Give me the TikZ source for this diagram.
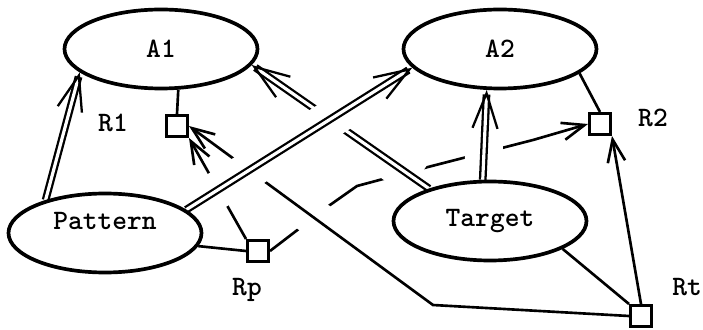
\documentclass[tikz,border=0pt]{standalone}
\usepackage{fontspec}
\usetikzlibrary{arrows.meta,shapes.geometric,backgrounds}

\begin{document}
\begin{tikzpicture}[
    font=\fontsize{16}{18}\selectfont\ttfamily\bfseries,
    ellnode/.style={draw, ellipse, line width=2.1pt, minimum width=3.86cm, minimum height=1.58cm, inner sep=0pt},
    relbox/.style={draw, rectangle, line width=1.7pt, minimum size=0.42cm, inner sep=0pt, fill=white},
    link/.style={line width=1.5pt},
    dbl/.style={double, line width=1.3pt, double distance=1.8pt, -{Straight Barb[length=0.7cm,width=0.5cm]}},
    arr/.style={line width=1.5pt, -{Straight Barb[length=0.45cm,width=0.35cm]}},
    halo/.style={draw=white, line width=0.75cm}
]

    % Fix the size of the picture
    \useasboundingbox (0,0) rectangle (14.06,6.58);

    % Define the four main nodes
    \node[ellnode] (A1) at (3.22,5.60) {A1};
    \node[ellnode] (A2) at (10.00,5.60) {A2};
    \node[ellnode, text depth=0.5cm] (Pattern) at (2.10,1.92) {Pattern};
    \node[ellnode] (Target) at (9.80,2.16) {Target};

    % Define the relation boxes
    \node[relbox] (R1) at (3.54,4.06) {};
    \node[relbox] (R2) at (12.00,4.10) {};
    \node[relbox] (Rp) at (5.16,1.56) {};
    \node[relbox] (Rt) at (12.82,0.26) {};

    % Add labels for the boxes
    \node (labR1) at (2.26,4.12) {R1};
    \node (labR2) at (13.06,4.22) {R2};
    \node (labRp) at (4.94,0.78) {Rp};
    \node (labRt) at (13.74,0.84) {Rt};

    % Define the points where the lines bend
    \coordinate (bend) at (8.66,0.48);
    \coordinate (P1) at (6.60,2.48);
    \coordinate (P2) at (7.14,2.86);
    \coordinate (P3) at (8.56,3.24);
    \coordinate (P4) at (10.66,3.78);

    \begin{scope}[on background layer]
    % Line from Rp to R2, under all the others
    \draw[arr] (Rp.east) -- (P1) -- (P2) -- (P3) -- (P4) -- (R2.west);

    % Double line from Target to A2
    \draw[halo, shorten <=0.3cm, shorten >=0.3cm] (Target.100) -- (A2.252);
    \draw[dbl] (Target.100) -- (A2.252);

    % Line from Rt to R1
    \draw[halo, shorten <=1cm, shorten >=0.4cm] (Rt.west) -- (bend) -- (R1.east);
    \draw[arr] (Rt.west) -- (bend) -- (R1.east);

    % Double line from Target to A1
    \draw[halo, shorten <=0.3cm, shorten >=0.4cm] (Target.152) -- (A1.350);
    \draw[dbl] (Target.152) -- (A1.350);

    % Line from Rp to R1
    \draw[arr] (Rp.north west) -- (R1.south east);

    % Double line from Pattern to A2, over the three lines above
    \draw[halo, shorten <=0.2cm, shorten >=1cm] (Pattern.16) -- (A2.192);
    \draw[dbl] (Pattern.16) -- (A2.192);

    % Remaining lines
    \draw[dbl] (Pattern.151) -- (A1.196);
    \draw[link] (A1.293) -- (R1.north);
    \draw[link] (A2.343) -- (R2.north);
    \draw[link] (Pattern.352) -- (Rp.west);
    \draw[link] (Target.339) -- (Rt.north west);
    \draw[arr] (Rt.north) -- (R2.south east);
    \end{scope}

\end{tikzpicture}
\end{document}
